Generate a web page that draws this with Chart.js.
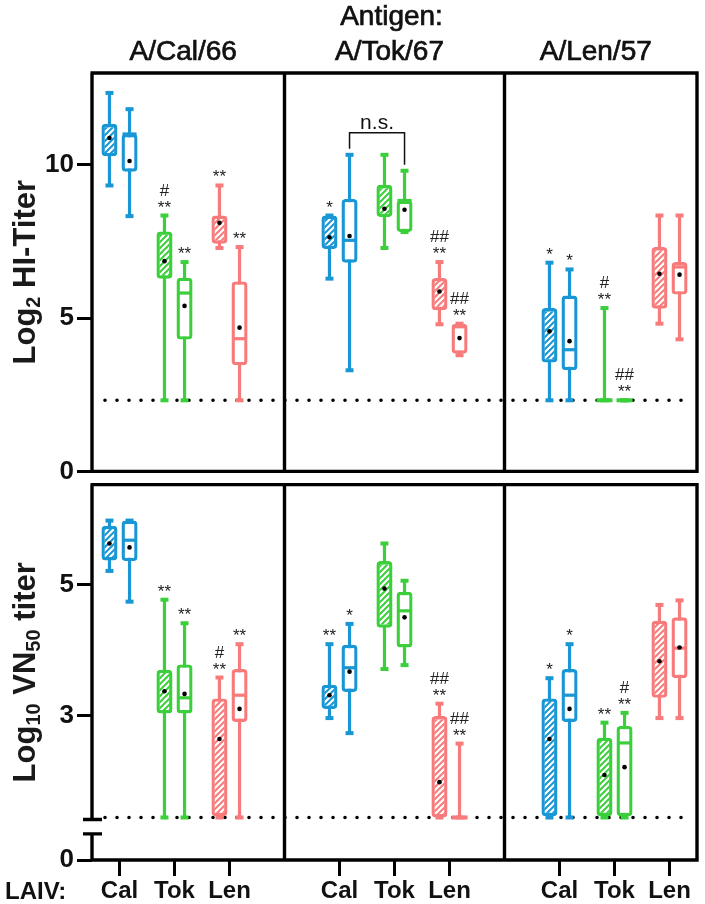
<!DOCTYPE html>
<html>
<head>
<meta charset="utf-8">
<script src="https://cdn.jsdelivr.net/npm/chart.js@4.4.1/dist/chart.umd.min.js"></script>
<style>
  body { margin: 0; background: #fff; }
  #wrap { position: relative; width: 705px; height: 904px; }
  canvas { position: absolute; left: 0; }
</style>
</head>
<body>
<div id="wrap">
  <canvas id="hiChart" width="705" height="490" style="top:0"></canvas>
  <canvas id="vnChart" width="705" height="438" style="top:466px"></canvas>
</div>
<script>
// LAIV slots per antigen panel, '' = panel divider
const slots = ['Cal', 'Tok', 'Len', '', 'Cal', 'Tok', 'Len', '', 'Cal', 'Tok', 'Len'];
const antigens = ['A/Cal/66', 'A/Tok/67', 'A/Len/57'];
const laivColors = ['#1997d4', '#3ccf3c', '#f77b7b'];

// Log2 HI titer, hatched boxes
const hiHMin  = [9.33, 2.32, 7.29, null, 6.29, 7.29, 4.80, null, 2.32, 2.32, 4.82];
const hiHQ1   = [10.28, 6.29, 7.43, null, 7.26, 8.30, 5.26, null, 3.55, 2.32, 5.31];
const hiHQ3   = [11.34, 7.83, 8.35, null, 8.35, 9.35, 6.31, null, 5.33, 2.32, 7.32];
const hiHMax  = [12.35, 8.35, 9.33, null, 8.35, 10.33, 6.83, null, 6.81, 5.33, 8.35];
const hiHMean = [10.88, 6.86, 8.11, null, 7.64, 8.57, 5.87, null, 4.57, null, 6.45];
const hiHNote = ['', '#\n**', '**', '', '*', '', '##\n**', '', '*', '#\n**', ''];
// Log2 HI titer, open boxes
const hiOMin  = [8.33, 2.32, 2.32, null, 3.30, 7.81, 3.79, null, 2.32, 2.32, 4.31];
const hiOQ1   = [9.78, 4.30, 3.46, null, 6.81, 7.81, 3.84, null, 3.30, 2.32, 5.77];
const hiOMed  = [11.01, 5.82, 4.33, null, 7.54, 8.84, 4.72, null, 3.97, 2.32, 6.67];
const hiOQ3   = [11.01, 6.32, 6.20, null, 8.89, 8.84, 4.82, null, 5.74, 2.32, 6.83];
const hiOMax  = [11.82, 6.83, 7.32, null, 10.33, 9.81, 4.82, null, 6.59, 2.32, 8.35];
const hiOMean = [10.13, 5.40, 4.69, null, 7.68, 8.54, 4.35, null, 4.25, null, 6.42];
const hiONote = ['', '**', '**', '', '', '', '##\n**', '', '*', '##\n**', ''];

// Log10 VN50 titer, hatched boxes
const vnHMin  = [5.21, 1.44, 1.44, null, 2.96, 3.71, 1.44, null, 1.44, 1.44, 2.96];
const vnHQ1   = [5.37, 3.03, 1.46, null, 3.10, 4.34, 1.44, null, 1.46, 1.46, 3.27];
const vnHQ3   = [5.90, 3.70, 3.26, null, 3.47, 5.36, 2.99, null, 3.26, 2.66, 4.45];
const vnHMax  = [5.98, 4.77, 3.58, null, 4.09, 5.63, 3.18, null, 3.57, 2.89, 4.69];
const vnHMean = [5.63, 3.37, 2.64, null, 3.31, 4.94, 1.98, null, 2.64, 2.09, 3.83];
const vnHNote = ['', '**', '#\n**', '', '**', '', '##\n**', '', '*', '**', ''];
// Log10 VN50 titer, open boxes
const vnOMin  = [4.74, 1.44, 1.44, null, 2.73, 3.77, 1.44, null, 1.44, 1.44, 2.96];
const vnOQ1   = [5.36, 3.03, 2.90, null, 3.36, 4.04, 1.44, null, 2.90, 1.46, 3.57];
const vnOMed  = [5.68, 3.27, 3.31, null, 3.73, 4.60, 1.44, null, 3.31, 2.58, 4.03];
const vnOQ3   = [5.98, 3.78, 3.71, null, 4.08, 4.89, 1.44, null, 3.71, 2.84, 4.50];
const vnOMax  = [5.98, 4.41, 4.09, null, 4.40, 5.06, 2.57, null, 4.09, 3.04, 4.76];
const vnOMean = [5.57, 3.33, 3.10, null, 3.67, 4.50, null, null, 3.10, 2.21, 4.04];
const vnONote = ['', '**', '**', '', '*', '', '##\n**', '', '*', '#\n**', ''];

const hiTicks = [0, 5, 10];
const hiTickLabels = ['0', '5', '10'];
const vnTicks = [0.79, 3, 5];   // first one sits below the axis break
const vnTickLabels = ['0', '3', '5'];
const hiLimit = 2.32;   // detection limits (dotted lines)
const vnLimit = 1.44;

const FONT = '"Liberation Sans", Arial, sans-serif';
const colorAt = i => laivColors[i % 4] || 'rgba(0,0,0,0)';

function hatch(ctx, color) {
  const c = document.createElement('canvas');
  c.width = 6; c.height = 6;
  const g = c.getContext('2d');
  g.fillStyle = '#fff';
  g.fillRect(0, 0, 6, 6);
  g.strokeStyle = color;
  g.lineWidth = 2;
  g.beginPath();
  g.moveTo(0, 6); g.lineTo(6, 0);
  g.moveTo(-1, 1); g.lineTo(1, -1);
  g.moveTo(5, 7); g.lineTo(7, 5);
  g.stroke();
  return ctx.createPattern(c, 'repeat');
}

function boxDataset(ctx, label, hatched, min, q1, med, q3, max, mean, note) {
  return {
    label,
    data: q1.map((v, i) => v == null ? null : [v, q3[i]]),
    backgroundColor: slots.map((s, i) => !s ? 'rgba(0,0,0,0)' : hatched ? hatch(ctx, colorAt(i)) : '#fff'),
    borderColor: slots.map((s, i) => colorAt(i)),
    borderWidth: 3.4,
    borderRadius: 4,
    borderSkipped: false,
    categoryPercentage: 0.73,
    barPercentage: 0.8,
    stats: { min, q1, med, q3, max, mean, note }
  };
}

function drawVTitle(ctx, parts, x, y) {
  const big = 'bold 31px ' + FONT, small = 'bold 20px ' + FONT;
  ctx.save();
  ctx.translate(x, y);
  ctx.rotate(-Math.PI / 2);
  let w = 0;
  parts.forEach(p => { ctx.font = p.sub ? small : big; w += ctx.measureText(p.t).width; });
  let cx = -w / 2;
  ctx.fillStyle = '#1a1a1a';
  ctx.textAlign = 'left';
  ctx.textBaseline = 'middle';
  parts.forEach(p => {
    ctx.font = p.sub ? small : big;
    ctx.fillText(p.t, cx, p.sub ? 8 : 0);
    cx += ctx.measureText(p.t).width;
  });
  ctx.restore();
}

const boxPlot = {
  id: 'boxPlot',
  beforeDatasetsDraw(chart, args, opts) {
    const { ctx, chartArea: a, scales: { y } } = chart;
    ctx.save();
    // detection limit
    const yl = y.getPixelForValue(opts.limit);
    ctx.strokeStyle = '#000';
    ctx.lineWidth = 3.6;
    ctx.lineCap = 'round';
    ctx.setLineDash([0, 12]);
    ctx.beginPath();
    ctx.moveTo(a.left + 13, yl);
    ctx.lineTo(a.right - 4, yl);
    ctx.stroke();
    ctx.setLineDash([]);
    ctx.lineCap = 'butt';
    // whiskers + caps
    chart.data.datasets.forEach((ds, d) => {
      chart.getDatasetMeta(d).data.forEach((bar, i) => {
        const s = ds.stats;
        if (s.max[i] == null) return;
        const y0 = y.getPixelForValue(s.min[i]);
        const y1 = y.getPixelForValue(s.max[i]);
        ctx.strokeStyle = colorAt(i);
        ctx.fillStyle = colorAt(i);
        ctx.lineWidth = 3.2;
        ctx.beginPath();
        ctx.moveTo(bar.x, y0);
        ctx.lineTo(bar.x, y1);
        ctx.stroke();
        ctx.fillRect(bar.x - 4, y0 - 2, 8, 4);
        ctx.fillRect(bar.x - 4, y1 - 2, 8, 4);
      });
    });
    ctx.restore();
  },
  afterDatasetsDraw(chart, args, opts) {
    const { ctx, scales: { y } } = chart;
    ctx.save();
    chart.data.datasets.forEach((ds, d) => {
      chart.getDatasetMeta(d).data.forEach((bar, i) => {
        const s = ds.stats;
        if (s.max[i] == null) return;
        const half = bar.width / 2;
        ctx.fillStyle = colorAt(i);
        if (s.q1[i] === s.q3[i]) {
          ctx.fillRect(bar.x - half, y.getPixelForValue(s.q1[i]) - 2, bar.width, 4);
        }
        if (s.med && s.med[i] != null && s.q1[i] !== s.q3[i]) {
          ctx.fillRect(bar.x - half + 1, y.getPixelForValue(s.med[i]) - 1.6, bar.width - 2, 3.2);
        }
        if (s.mean[i] != null) {
          ctx.fillStyle = '#000';
          ctx.beginPath();
          ctx.arc(bar.x, y.getPixelForValue(s.mean[i]), 2.3, 0, Math.PI * 2);
          ctx.fill();
        }
        const note = s.note[i];
        if (note) {
          const lines = note.split('\n');
          const top = y.getPixelForValue(s.max[i]);
          ctx.fillStyle = '#222';
          ctx.font = '17px ' + FONT;
          ctx.textAlign = 'center';
          ctx.textBaseline = 'alphabetic';
          lines.forEach((t, k) => {
            ctx.fillText(t, bar.x, top - 3 - 17 * (lines.length - 1 - k));
          });
        }
      });
    });
    // significance bracket
    (opts.brackets || []).forEach(b => {
      const meta = chart.getDatasetMeta(b.dataset);
      const s = chart.data.datasets[b.dataset].stats;
      const xa = meta.data[b.from].x, xb = meta.data[b.to].x;
      const yb = y.getPixelForValue(b.level);
      ctx.strokeStyle = '#111';
      ctx.lineWidth = 1.5;
      ctx.beginPath();
      ctx.moveTo(xa, y.getPixelForValue(s.max[b.from]) - 6);
      ctx.lineTo(xa, yb);
      ctx.lineTo(xb, yb);
      ctx.lineTo(xb, y.getPixelForValue(s.max[b.to]) - 6);
      ctx.stroke();
      ctx.fillStyle = '#111';
      ctx.font = '21px ' + FONT;
      ctx.textAlign = 'center';
      ctx.textBaseline = 'alphabetic';
      ctx.fillText(b.text, (xa + xb) / 2, yb - 4);
    });
    ctx.restore();
  },
  afterDraw(chart, args, opts) {
    const { ctx, chartArea: a, scales: { x, y } } = chart;
    ctx.save();
    ctx.strokeStyle = '#000';
    ctx.lineWidth = 3.4;
    ctx.beginPath();
    ctx.moveTo(a.left - 1.5, a.top);
    ctx.lineTo(a.right, a.top);
    ctx.lineTo(a.right, a.bottom);
    ctx.lineTo(a.left - 1.5, a.bottom);
    slots.forEach((s, i) => {
      if (s) return;
      const xd = x.getPixelForValue(i);
      ctx.moveTo(xd, a.top);
      ctx.lineTo(xd, a.bottom);
    });
    if (opts.axisBreak) {
      const b1 = y.getPixelForValue(opts.axisBreak[0]);
      const b2 = y.getPixelForValue(opts.axisBreak[1]);
      ctx.moveTo(a.left, a.top);
      ctx.lineTo(a.left, b1);
      ctx.moveTo(a.left, b2);
      ctx.lineTo(a.left, a.bottom);
      ctx.moveTo(a.left - 9, b1);
      ctx.lineTo(a.left + 10, b1);
      ctx.moveTo(a.left - 9, b2);
      ctx.lineTo(a.left + 10, b2);
    } else {
      ctx.moveTo(a.left, a.top);
      ctx.lineTo(a.left, a.bottom);
    }
    ctx.stroke();

    drawVTitle(ctx, opts.title, 26, (a.top + a.bottom) / 2);

    ctx.fillStyle = '#111';
    ctx.strokeStyle = '#111';
    if (opts.headers) {
      const edges = [a.left];
      slots.forEach((s, i) => { if (!s) edges.push(x.getPixelForValue(i)); });
      edges.push(a.right);
      ctx.font = '28px ' + FONT;
      ctx.lineWidth = 0.7;
      ctx.textAlign = 'center';
      ctx.textBaseline = 'middle';
      antigens.forEach((t, k) => {
        const tx = (edges[k] + edges[k + 1]) / 2 - 5;
        ctx.fillText(t, tx, 52);
        ctx.strokeText(t, tx, 52);
      });
      const ax = (edges[1] + edges[2]) / 2 - 3;
      ctx.fillText('Antigen:', ax, 17);
      ctx.strokeText('Antigen:', ax, 17);
    }
    if (opts.rowLabel) {
      ctx.font = 'bold 24px ' + FONT;
      ctx.textAlign = 'left';
      ctx.textBaseline = 'middle';
      ctx.fillText(opts.rowLabel, 5, a.bottom + 32);
    }
    ctx.restore();
  }
};

function yAxis(min, max, ticks, labels) {
  return {
    min, max,
    afterFit: s => { s.width = 92; },
    afterBuildTicks: s => { s.ticks = ticks.map(v => ({ value: v })); },
    ticks: {
      callback: (v, i) => labels[i],
      color: '#111',
      padding: 3,
      font: { family: FONT, size: 26, weight: 'bold' }
    },
    grid: { drawOnChartArea: false, drawTicks: true, tickLength: 15, tickWidth: 3, tickColor: '#000' },
    border: { display: false }
  };
}

const hiCtx = document.getElementById('hiChart').getContext('2d');
new Chart(hiCtx, {
  type: 'bar',
  data: {
    labels: slots,
    datasets: [
      boxDataset(hiCtx, 'hatched', true, hiHMin, hiHQ1, null, hiHQ3, hiHMax, hiHMean, hiHNote),
      boxDataset(hiCtx, 'open', false, hiOMin, hiOQ1, hiOMed, hiOQ3, hiOMax, hiOMean, hiONote)
    ]
  },
  options: {
    responsive: false,
    animation: false,
    layout: { padding: { top: 73, right: 8, bottom: 17, left: 0 } },
    plugins: {
      legend: { display: false },
      tooltip: { enabled: false },
      boxPlot: {
        limit: hiLimit,
        headers: true,
        title: [{ t: 'Log' }, { t: '2', sub: true }, { t: ' HI-Titer' }],
        brackets: [{ dataset: 1, from: 4, to: 5, level: 11.05, text: 'n.s.' }]
      }
    },
    scales: {
      x: { display: false, offset: true },
      y: yAxis(0, 13, hiTicks, hiTickLabels)
    }
  },
  plugins: [boxPlot]
});

const vnCtx = document.getElementById('vnChart').getContext('2d');
new Chart(vnCtx, {
  type: 'bar',
  data: {
    labels: slots,
    datasets: [
      boxDataset(vnCtx, 'hatched', true, vnHMin, vnHQ1, null, vnHQ3, vnHMax, vnHMean, vnHNote),
      boxDataset(vnCtx, 'open', false, vnOMin, vnOQ1, vnOMed, vnOQ3, vnOMax, vnOMean, vnONote)
    ]
  },
  options: {
    responsive: false,
    animation: false,
    layout: { padding: { top: 7, right: 8, bottom: 0, left: 0 } },
    plugins: {
      legend: { display: false },
      tooltip: { enabled: false },
      boxPlot: {
        limit: vnLimit,
        axisBreak: [1.41, 1.19],
        rowLabel: 'LAIV:',
        title: [{ t: 'Log' }, { t: '10', sub: true }, { t: ' VN' }, { t: '50', sub: true }, { t: ' titer' }]
      }
    },
    scales: {
      x: {
        offset: true,
        afterFit: s => { s.height = 44; },
        ticks: {
          autoSkip: false,
          maxRotation: 0,
          padding: 1,
          color: '#111',
          font: { family: FONT, size: 24, weight: 'bold' }
        },
        grid: {
          offset: false,
          drawOnChartArea: false,
          tickLength: 16,
          tickWidth: 3,
          tickColor: c => slots[c.index] ? '#000' : 'rgba(0,0,0,0)'
        },
        border: { display: false }
      },
      y: yAxis(0.79, 6.53, vnTicks, vnTickLabels)
    }
  },
  plugins: [boxPlot]
});
</script>
</body>
</html>
